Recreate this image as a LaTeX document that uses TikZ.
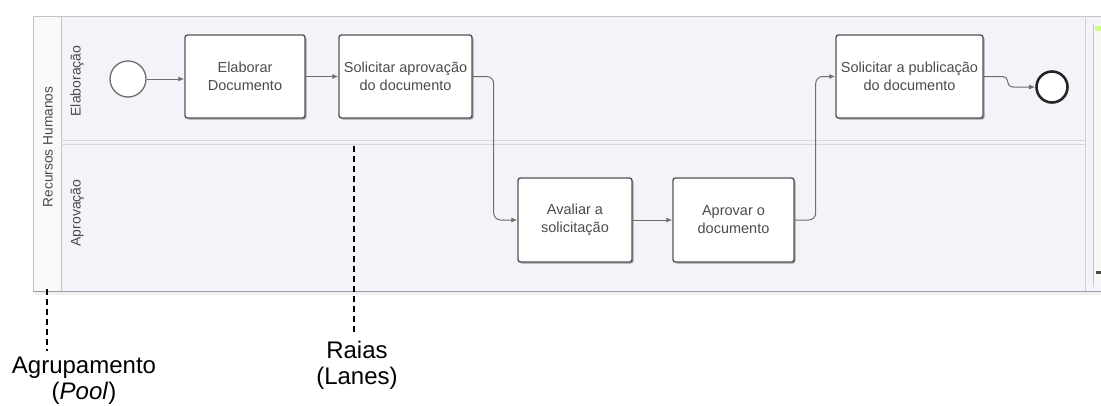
\documentclass[tikz,border=0pt]{standalone}
\usepackage{fontspec}
\setmainfont{Liberation Sans}
\usetikzlibrary{arrows.meta,shadows}
\definecolor{lanebg}{RGB}{243,243,250}
\definecolor{poolhead}{RGB}{249,249,249}
\definecolor{poolline}{RGB}{195,195,205}
\definecolor{boxline}{RGB}{85,85,85}
\definecolor{boxtext}{RGB}{75,75,75}
\definecolor{flowline}{RGB}{110,110,110}
\tikzset{
  task/.style={draw=boxline, line width=1.4pt, fill=white, rounded corners=2.5pt,
    align=center, text=boxtext, font=\fontsize{14.5}{18}\selectfont, inner sep=2pt,
    drop shadow={shadow xshift=1.5pt, shadow yshift=-1.5pt, opacity=0.35, fill=black}},
  flow/.style={draw=flowline, line width=1pt, rounded corners=7pt,
    -{Latex[length=6pt,width=5pt]}},
  lanelabel/.style={rotate=90, text=boxtext, font=\fontsize{14}{15}\selectfont, inner sep=0pt},
  note/.style={align=center, font=\fontsize{24}{26}\selectfont, inner sep=0pt},
  notedash/.style={draw=black, line width=1.3pt, dash pattern=on 6pt off 4pt},
}
\begin{document}
\begin{tikzpicture}[x=1pt,y=-1pt]
\useasboundingbox (0,0) rectangle (1101,405);
% pool background
\fill[gray!12] (35,292) rectangle (1101,295);
\fill[lanebg] (33,16) rectangle (1101,291);
\fill[poolhead] (33,16) rectangle (61,291);
\draw[poolline, line width=1pt] (33,291) -- (33,16) -- (1101,16);
\draw[poolline!80!black, line width=1pt] (33,291) -- (1101,291);
\draw[poolline, line width=1pt] (61,16) -- (61,291);
\draw[poolline!70, line width=1pt] (61,140) -- (1085,140);
\draw[poolline!70, line width=1pt] (61,144) -- (1085,144);
\draw[poolline!80, line width=0.8pt] (1085,16) -- (1085,291);
\fill[gray!6] (1093,24) rectangle (1101,287);
\draw[gray!45, line width=0.8pt] (1093,24) -- (1093,287);
\fill[green!40!yellow!50] (1095,26) rectangle (1101,31);
\fill[black!70] (1096,271) rectangle (1101,274);
% labels
\node[lanelabel, font=\fontsize{13.7}{15}\selectfont] (pooltxt) at (48,147) {Recursos Humanos};
\node[lanelabel] (lane1) at (77,81) {Elaboração};
\node[lanelabel] (lane2) at (77,213) {Aprovação};
% events and tasks
\node[circle, draw=flowline, line width=1.3pt, fill=white, minimum size=36pt, inner sep=0pt] (start) at (128,79) {};
\node[task, minimum width=120pt, minimum height=83pt] (t1) at (245,76.5) {Elaborar\\Documento};
\node[task, minimum width=133pt, minimum height=83pt] (t2) at (405.5,76.5) {Solicitar aprovação\\do documento};
\node[task, minimum width=114pt, minimum height=84pt] (t3) at (575,220) {Avaliar a\\solicitação};
\node[task, minimum width=121pt, minimum height=84pt] (t4) at (733.5,220) {Aprovar o\\documento};
\node[task, minimum width=147pt, minimum height=83pt] (t5) at (909.5,76.5) {Solicitar a publicação\\do documento};
\node[circle, draw=black!85, line width=2.6pt, fill=white, minimum size=31pt, inner sep=0pt] (endev) at (1052,87) {};
% flows
\draw[flow] (start) -- (start -| t1.west);
\draw[flow] (t1) -- (t2);
\draw[flow] (t2.east) -- ++(21,0) |- (t3.west);
\draw[flow] (t3) -- (t4);
\draw[flow] (t4.east) -- ++(21,0) |- (t5.west);
\draw[flow, rounded corners=5pt] (t5.east) -- ++(24,0) |- (endev.west);
% annotations
\node[note] (agr) at (84,381) {Agrupamento\\(\textit{Pool})};
\node[note] (raias) at (357,365) {Raias\\(Lanes)};
\coordinate (pooltip) at (47,289);
\coordinate (lanetip) at (354,146);
\draw[notedash] (pooltip) -- ([yshift=6pt]pooltip |- agr.north);
\draw[notedash] (lanetip) -- ([yshift=8pt]lanetip |- raias.north);
\end{tikzpicture}
\end{document}
